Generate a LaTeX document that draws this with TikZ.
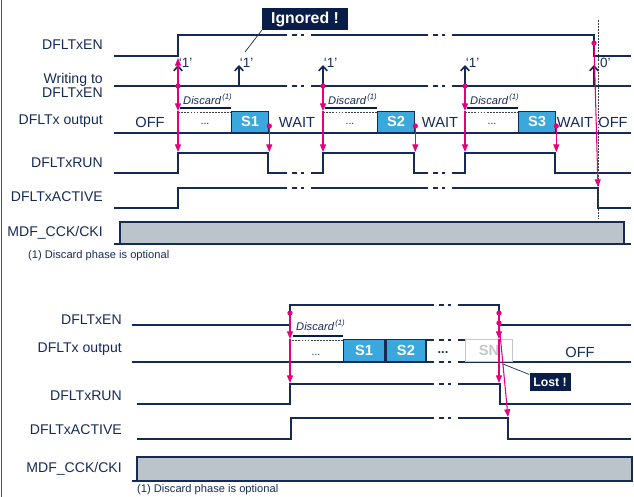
\documentclass[tikz,border=0pt]{standalone}
\usepackage{fontspec}
\setmainfont{Liberation Sans}
\usepackage{tikz}
\usetikzlibrary{arrows.meta,positioning,calc}
\definecolor{navy}{RGB}{22,42,88}
\definecolor{deepnavy}{RGB}{8,30,72}
\definecolor{magline}{RGB}{228,0,124}
\definecolor{sblue}{RGB}{58,168,220}
\definecolor{ckgray}{RGB}{186,196,202}
\definecolor{sngray}{RGB}{192,200,206}
\definecolor{framegray}{RGB}{80,80,80}
\tikzset{
  sig/.style={draw=navy, line width=1.4pt},
  brk/.style={sig, dash pattern=on 0pt off 4.3pt on 4.3pt off 3.4pt on 2.6pt off 8pt},
  sigtitle/.style={font=\fontsize{12}{12}\selectfont, text=navy, anchor=east,
                   align=right, inner sep=0pt},
  state/.style={font=\fontsize{12.5}{13}\selectfont, text=navy, inner sep=0pt},
  gap/.style={font=\fontsize{9}{10}\selectfont, text=navy, inner sep=0pt},
  sbox/.style={rectangle, draw=navy, line width=1.1pt, fill=sblue, text=white,
               font=\bfseries\fontsize{12.5}{13}\selectfont, minimum width=1.11cm,
               minimum height=0.63cm, inner sep=0pt, anchor=south west},
  lostbox/.style={sbox, draw=sngray, fill=white, text=sngray},
  dashbox/.style={draw=black!75, line width=0.7pt, dash pattern=on 1.6pt off 1pt},
  bar/.style={draw=deepnavy, line width=2.2pt},
  disc/.style={font=\itshape\fontsize{9.5}{10}\selectfont, text=navy, inner sep=0pt,
               anchor=base west},
  note/.style={font=\fontsize{9.5}{10}\selectfont, text=navy, inner sep=0pt, anchor=west},
  quote/.style={font=\fontsize{11.5}{12}\selectfont, text=navy, inner sep=0pt, anchor=west},
  callout/.style={rectangle, fill=deepnavy, text=white, inner sep=0pt},
  lead/.style={draw=navy, line width=0.6pt},
  magarr/.style={draw=magline, line width=0.9pt, -{Triangle[length=2.3mm,width=1.8mm]}},
  wrarr/.style={draw=navy, line width=1.4pt, -{Straight Barb[length=1.4mm,width=2.6mm]}},
  mdot/.style={circle, fill=magline, inner sep=0pt, minimum size=4.5pt},
}
\begin{document}
\begin{tikzpicture}[x=0.03cm, y=-0.03cm]
  \useasboundingbox (0,0) rectangle (634,497);
  \draw[framegray, line width=0.8pt] (1,0) -- (1,497);

  % ===== upper chart =====
  \node[sigtitle] (enT) at (103,45) {DFLTxEN};
  \node[sigtitle] (wrT) at (103,85) {Writing to\\DFLTxEN};
  \node[sigtitle] (outT) at (103,121) {DFLTx output};
  \node[sigtitle] (runT) at (103,163) {DFLTxRUN};
  \node[sigtitle] (actT) at (103,197) {DFLTxACTIVE};
  \node[sigtitle] (ckT) at (103,233) {MDF\_CCK/CKI};

  % row levels used by the arrows
  \coordinate (enLo) at (0,58);
  \coordinate (wrTip) at (0,65);
  \coordinate (outTop) at (0,111);
  \coordinate (runHi) at (0,152);

  % waveforms
  \draw[sig] (114,56) -- (178,56) -- (178,35) -- (287,35);
  \draw[brk] (287,35) -- (311,35);
  \draw[sig] (311,35) -- (428,35);
  \draw[brk] (428,35) -- (452,35);
  \draw[sig] (452,35) -- (594,35) -- (594,56) -- (631,56);

  \draw[sig] (114,86) -- (287,86);
  \draw[brk] (287,86) -- (311,86);
  \draw[sig] (311,86) -- (428,86);
  \draw[brk] (428,86) -- (452,86);
  \draw[sig] (452,86) -- (631,86);

  \draw[sig] (114,133) -- (631,133);

  \draw[sig] (114,173) -- (178,173) -- (178,153) -- (268,153) -- (268,173) -- (287,173);
  \draw[brk] (287,173) -- (311,173);
  \draw[sig] (311,173) -- (323,173) -- (323,153) -- (414,153) -- (414,173) -- (428,173);
  \draw[brk] (428,173) -- (452,173);
  \draw[sig] (452,173) -- (465,173) -- (465,153) -- (555,153) -- (555,173) -- (631,173);

  \draw[sig] (114,208) -- (178,208) -- (178,188) -- (287,188);
  \draw[brk] (287,188) -- (311,188);
  \draw[sig] (311,188) -- (428,188);
  \draw[brk] (428,188) -- (452,188);
  \draw[sig] (452,188) -- (598,188) -- (598,208) -- (631,208);

  \draw[sig] (114,244) -- (120,244);
  \draw[sig, fill=ckgray] (120,222) rectangle (624,244);
  \draw[sig] (624,244) -- (631,244);

  % output phases
  \draw[dashbox] (178,133) -- (178,112) -- (231,112);
  \draw[dashbox] (323,133) -- (323,112) -- (377,112);
  \draw[dashbox] (465,133) -- (465,112) -- (518,112);
  \node[sbox] (s1T) at (231,133) {S1};
  \node[sbox] (s2T) at (377,133) {S2};
  \node[sbox] (s3T) at (518,133) {S3};
  \draw[bar] (180,108) -- (s1T.north west |- 0,108);
  \draw[bar] (325,108) -- (s2T.north west |- 0,108);
  \draw[bar] (467,108) -- (s3T.north west |- 0,108);
  \node[disc] (dsT1) at (183,104) {Discard\textsuperscript{\,(1)}};
  \node[disc] (dsT2) at (328,104) {Discard\textsuperscript{\,(1)}};
  \node[disc] (dsT3) at (470,104) {Discard\textsuperscript{\,(1)}};
  \node[state] (offT1) at (150,122) {OFF};
  \node[gap] (gpT1) at (205,124) {...};
  \node[state] (waitT1) at (297,122) {WAIT};
  \node[gap] (gpT2) at (350,124) {...};
  \node[state] (waitT2) at (440,122) {WAIT};
  \node[gap] (gpT3) at (492,124) {...};
  \node[state] (waitT3) at (575,122) {WAIT};
  \node[state] (offT2) at (613,122) {OFF};
  \draw[dashbox] (598,20) -- (598,219);

  % register writes
  \coordinate (w1) at (178,86);
  \coordinate (wIg) at (239,86);
  \coordinate (w2) at (323,86);
  \coordinate (w3) at (465,86);
  \coordinate (wOff) at (594,86);
  \draw[wrarr] (w1) -- (w1 |- wrTip) node[quote, yshift=2pt] (q1) {‘1’};
  \draw[wrarr] (wIg) -- (wIg |- wrTip) node[quote, yshift=2pt] (qIg) {‘1’};
  \draw[wrarr] (w2) -- (w2 |- wrTip) node[quote, yshift=2pt] (q2) {‘1’};
  \draw[wrarr] (w3) -- (w3 |- wrTip) node[quote, yshift=2pt] (q3) {‘1’};
  \draw[wrarr] (wOff) -- (wOff |- wrTip) node[quote, xshift=2pt, yshift=2pt] (q0) {‘0’};

  \node[callout, minimum width=2.58cm, minimum height=0.66cm,
        font=\bfseries\fontsize{13.5}{15}\selectfont] (ignored) at (305,19) {Ignored !};
  \coordinate (igFoot) at (245,52);
  \draw[lead] (igFoot) -- (ignored.south west);

  % causality arrows
  \draw[magarr] (w1) -- (w1 |- enLo);
  \foreach \w in {w1,w2,w3} {
    \draw[magarr] (\w) -- (\w |- outTop);
    \draw[magarr] (\w |- outTop) -- (\w |- runHi);
    \node[mdot] at (\w) {};
  }
  \foreach \s in {s1T,s2T,s3T} {
    \coordinate (\s end) at ($(\s.south east)+(0,-7)$);
    \draw[magarr] (\s end) -- (\s end |- runHi);
    \node[mdot] at (\s end) {};
  }
  \coordinate (enFall) at (594,43);
  \coordinate (actFall) at (598,187);
  \draw[magarr] (enFall) -- (actFall);
  \node[mdot] at (enFall) {};

  \node[note] (noteT) at (28,256) {(1) Discard phase is optional};

  % ===== lower chart =====
  \node[sigtitle] (enB) at (122,320) {DFLTxEN};
  \node[sigtitle] (outB) at (122,349) {DFLTx output};
  \node[sigtitle] (runB) at (122,396) {DFLTxRUN};
  \node[sigtitle] (actB) at (122,430) {DFLTxACTIVE};
  \node[sigtitle] (ckB) at (122,469) {MDF\_CCK/CKI};

  \coordinate (outTopB) at (0,339);
  \coordinate (runHiB) at (0,383);

  \draw[sig] (132,325) -- (290,325) -- (290,305) -- (434,305);
  \draw[brk] (434,305) -- (458,305);
  \draw[sig] (458,305) -- (499,305) -- (499,325) -- (631,325);

  \draw[sig] (132,362) -- (434,362);
  \draw[brk] (434,362) -- (458,362);
  \draw[sig] (458,362) -- (631,362);
  \draw[sig] (424,340) -- (434,340);
  \draw[brk] (434,340) -- (458,340);
  \draw[sig] (458,340) -- (465,340);

  \draw[sig] (137,404) -- (290,404) -- (290,384) -- (434,384);
  \draw[brk] (434,384) -- (458,384);
  \draw[sig] (458,384) -- (500,384) -- (500,404) -- (631,404);

  \draw[sig] (137,439) -- (291,439) -- (291,418) -- (434,418);
  \draw[brk] (434,418) -- (458,418);
  \draw[sig] (458,418) -- (508,418) -- (508,439) -- (631,439);

  \draw[sig] (132,481) -- (137,481);
  \draw[sig, fill=ckgray] (137,457) rectangle (632,481);

  \draw[dashbox] (290,362) -- (290,340) -- (343,340);
  \node[sbox, minimum width=1.23cm, minimum height=0.66cm] (s1B) at (343,362) {S1};
  \node[sbox, minimum width=1.2cm, minimum height=0.66cm] (s2B) at (s1B.south east) {S2};
  \node[lostbox, minimum width=1.41cm, minimum height=0.66cm] (snB) at (465,362) {SN};
  \draw[bar] (293,336) -- (343,336);
  \node[disc] (dsB) at (296,330) {Discard\textsuperscript{\,(1)}};
  \node[gap] (gpB1) at (316,355) {...};
  \node[gap, font=\bfseries\fontsize{11}{12}\selectfont] (gpB2) at (443,353) {...};
  \node[state] (offB) at (580,352) {OFF};

  \node[callout, minimum width=1.23cm, minimum height=0.54cm,
        font=\bfseries\fontsize{10.5}{12}\selectfont] (lost) at (550,382) {Lost !};
  \coordinate (lostFoot) at (503,364);
  \draw[lead] (lostFoot) -- (lost.160);

  \coordinate (b1) at (290,313);
  \coordinate (b2) at (499,313);
  \coordinate (b3) at (499,323);
  \coordinate (actFallB) at (508,417);
  \foreach \b in {b1,b2} {
    \draw[magarr] (\b) -- (\b |- outTopB);
    \draw[magarr] (\b |- outTopB) -- (\b |- runHiB);
    \node[mdot] at (\b) {};
  }
  \draw[magarr] (b3) -- (actFallB);
  \node[mdot] at (b3) {};

  \node[note] (noteB) at (137,490) {(1) Discard phase is optional};
\end{tikzpicture}
\end{document}
